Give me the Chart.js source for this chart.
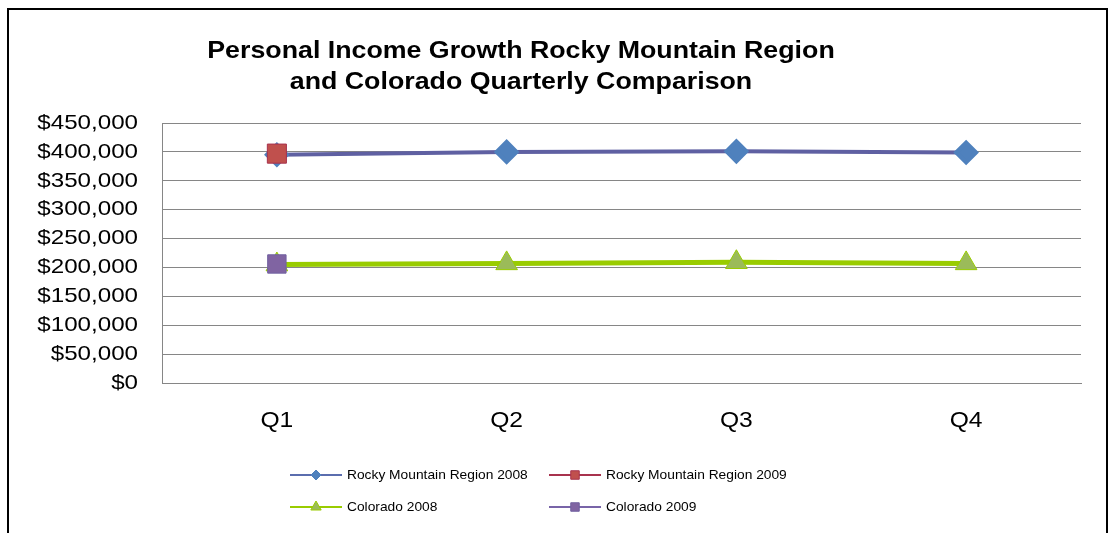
<!DOCTYPE html>
<html>
<head>
<meta charset="utf-8">
<script src="https://cdn.jsdelivr.net/npm/chart.js@4/dist/chart.umd.min.js"></script>
<style>
  html, body { margin: 0; padding: 0; background: #fff; }
  #wrap { position: relative; width: 1112px; height: 533px; overflow: hidden; }
  #frame { position: absolute; left: 7px; top: 8px; width: 1101px; height: 540px;
           border: 2px solid #000; box-sizing: border-box; }
  canvas { position: absolute; left: 0; top: 0; }
</style>
</head>
<body>
<div id="wrap">
  <div id="frame"></div>
  <canvas id="chart" width="1112" height="533"></canvas>
</div>
<script>
// values
const quarters = ['Q1', 'Q2', 'Q3', 'Q4'];
const rocky2008 = [395000, 400000, 401000, 399000];
const rocky2009 = [397000, null, null, null];
const colorado2008 = [205000, 207000, 209000, 207000];
const colorado2009 = [206000, null, null, null];
const titleLines = ['Personal Income Growth Rocky Mountain Region', 'and Colorado Quarterly Comparison'];

const FONT = '"Liberation Sans", Arial, sans-serif';
const money = v => '$' + v.toLocaleString('en-US');

// the original text is drawn a bit wider than plain Arial, so stretch it
function stretchText(ctx, text, x, y, sx, align) {
  ctx.save();
  ctx.translate(x, y);
  ctx.scale(sx, 1);
  ctx.textAlign = align;
  ctx.textBaseline = 'middle';
  ctx.fillText(text, 0, 0);
  ctx.restore();
}

const textPlugin = {
  id: 'excelText',
  afterDraw(chart) {
    const ctx = chart.ctx;
    ctx.save();
    ctx.fillStyle = '#000';

    // title, at a fixed spot (not centred on the plot)
    ctx.font = 'bold 24px ' + FONT;
    stretchText(ctx, titleLines[0], 521, 51, 1.115, 'center');
    stretchText(ctx, titleLines[1], 521, 82, 1.115, 'center');

    // axis labels, placed with the library's scales
    const ys = chart.scales.y;
    ctx.font = '21px ' + FONT;
    ys.ticks.forEach(t => {
      stretchText(ctx, money(t.value), ys.right - 24, ys.getPixelForValue(t.value), 1.15, 'right');
    });
    const xs = chart.scales.x;
    ctx.font = '22px ' + FONT;
    quarters.forEach((q, i) => {
      stretchText(ctx, q, xs.getPixelForTick(i), 421, 1.12, 'center');
    });
    ctx.restore();
  }
};

// Excel style legend: line with the marker in its middle
const legendPlugin = {
  id: 'excelLegend',
  afterDraw(chart) {
    const ctx = chart.ctx;
    const slots = [[290, 475], [549, 475], [290, 507], [549, 507]];
    chart.data.datasets.forEach((ds, i) => {
      const [x, y] = slots[i];
      ctx.save();
      ctx.strokeStyle = ds.legendLine;
      ctx.lineWidth = 2;
      ctx.beginPath();
      ctx.moveTo(x, y);
      ctx.lineTo(x + 52, y);
      ctx.stroke();
      ctx.fillStyle = ds.pointBackgroundColor;
      ctx.strokeStyle = ds.pointBorderColor;
      ctx.lineWidth = 1;
      Chart.helpers.drawPoint(ctx, {
        pointStyle: ds.pointStyle, radius: ds.legendRadius, borderWidth: 1
      }, x + 26, y);
      ctx.fillStyle = '#000';
      ctx.font = '13px ' + FONT;
      stretchText(ctx, ds.label, x + 57, y, 1.06, 'left');
      ctx.restore();
    });
  }
};

new Chart(document.getElementById('chart'), {
  type: 'line',
  data: {
    labels: quarters,
    datasets: [
      {
        label: 'Rocky Mountain Region 2008',
        data: rocky2008,
        borderColor: '#5F60A2',
        borderWidth: 4,
        pointStyle: 'rectRot',
        pointRadius: 10,
        pointBackgroundColor: '#4F81BD',
        pointBorderColor: '#4F81BD',
        legendLine: '#5B6DAE',
        legendRadius: 5,
        order: 1
      },
      {
        label: 'Rocky Mountain Region 2009',
        data: rocky2009,
        borderColor: '#A8324E',
        borderWidth: 4,
        pointStyle: 'rect',
        pointRadius: 13.5,
        pointBackgroundColor: '#C0504D',
        pointBorderColor: '#A8324E',
        pointBorderWidth: 1,
        legendLine: '#A8324E',
        legendRadius: 6,
        order: 0
      },
      {
        label: 'Colorado 2008',
        data: colorado2008,
        borderColor: '#99CC00',
        borderWidth: 5,
        pointStyle: 'triangle',
        pointRadius: 12.5,
        pointBackgroundColor: '#9BBB59',
        pointBorderColor: '#99CC00',
        pointBorderWidth: 1,
        legendLine: '#99CC00',
        legendRadius: 6,
        order: 1
      },
      {
        label: 'Colorado 2009',
        data: colorado2009,
        borderColor: '#7864A8',
        borderWidth: 4,
        pointStyle: 'rect',
        pointRadius: 13,
        pointBackgroundColor: '#8064A2',
        pointBorderColor: '#7060A0',
        pointBorderWidth: 1,
        legendLine: '#7864A8',
        legendRadius: 6,
        order: 0
      }
    ]
  },
  options: {
    responsive: false,
    animation: false,
    layout: { padding: { left: 0, top: 123, right: 31, bottom: 0 } },
    plugins: {
      legend: { display: false },
      title: { display: false },
      tooltip: { enabled: false }
    },
    elements: { line: { tension: 0 } },
    scales: {
      x: {
        offset: true,
        grid: { display: false, drawTicks: false },
        border: { color: '#868686', width: 1 },
        ticks: { display: false },
        afterFit(scale) { scale.height = 150; }
      },
      y: {
        min: 0,
        max: 450000,
        grid: { color: '#868686', drawTicks: false },
        border: { color: '#868686', width: 1 },
        ticks: { display: false, stepSize: 50000 },
        afterFit(scale) { scale.width = 162; }
      }
    }
  },
  plugins: [textPlugin, legendPlugin]
});
</script>
</body>
</html>
